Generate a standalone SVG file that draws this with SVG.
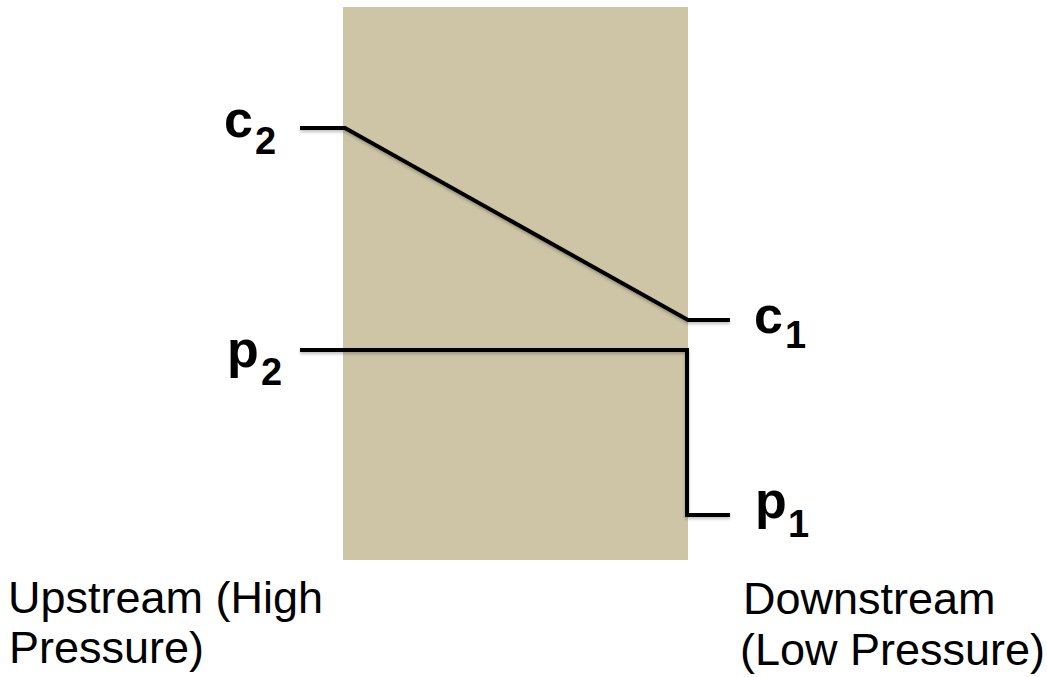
<svg xmlns="http://www.w3.org/2000/svg" width="1047" height="677" viewBox="0 0 1047 677">
<style>
.lbl{font-family:"Liberation Sans",Arial,sans-serif;font-weight:bold;fill:#000}
.main{font-size:52px}
.sub{font-size:38px}
.cap{font-family:"Liberation Sans",Arial,sans-serif;font-size:45px;fill:#000}
.ln{fill:none;stroke:#000;stroke-width:4;stroke-linejoin:miter;stroke-linecap:butt}
</style>
<defs>
<filter id="sh" x="-10%" y="-10%" width="120%" height="130%">
<feDropShadow dx="0" dy="2" stdDeviation="1.5" flood-color="#000" flood-opacity="0.25"/>
</filter>
</defs>
<rect id="membrane" x="343" y="7" width="345" height="553" fill="#CDC5A6"/>
<g id="connectors" filter="url(#sh)">
<polyline class="ln" points="300,128 345,128 688,320 730,320"/>
<polyline class="ln" points="300,350 687,350 687,515 730,515"/>
</g>
<g id="c2"><text class="lbl main" x="224" y="137">c</text><text class="lbl sub" x="255" y="154">2</text></g>
<g id="c1"><text class="lbl main" x="754" y="333">c</text><text class="lbl sub" x="785" y="348">1</text></g>
<g id="p2"><text class="lbl main" x="227" y="367">p</text><text class="lbl sub" x="261" y="385">2</text></g>
<g id="p1"><text class="lbl main" x="755" y="518">p</text><text class="lbl sub" x="788" y="537">1</text></g>
<g id="upstream"><text class="cap" x="8" y="613">Upstream (High</text><text class="cap" x="9" y="663">Pressure)</text></g>
<g id="downstream"><text class="cap" x="743" y="614">Downstream</text><text class="cap" x="740" y="665">(Low Pressure)</text></g>
</svg>
